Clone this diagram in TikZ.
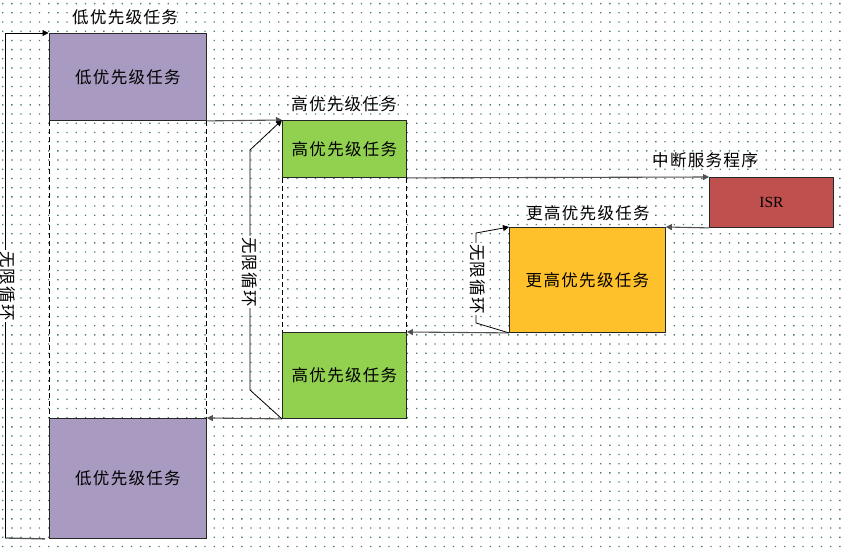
\documentclass[tikz,border=0pt]{standalone}
\usepackage{fontspec}
\setmainfont{Liberation Serif}
\newfontfamily\cjk[LetterSpace=8]{Noto Sans CJK SC}
\usetikzlibrary{arrows.meta}
\definecolor{dotc}{HTML}{4A7A6A}
\definecolor{lowc}{HTML}{A89AC0}
\definecolor{highc}{HTML}{92D050}
\definecolor{isrc}{HTML}{C0504D}
\definecolor{hhc}{HTML}{FFC12B}
\definecolor{linec}{HTML}{505050}
\tikzset{
  task/.style={draw=black!85, line width=0.9pt, anchor=north west, inner sep=0pt,
    font=\cjk\fontsize{16.5}{19}\selectfont},
  lbl/.style={font=\cjk\fontsize{16.5}{19}\selectfont, inner sep=1pt},
  looptxt/.style={font=\cjk\fontsize{16.5}{19}\selectfont, rotate=-90, fill=white, inner sep=1pt},
  arr/.style={-{Triangle[length=6pt,width=6pt]}, line width=1.1pt, draw=linec},
  loopl/.style={line width=0.8pt, draw=black},
  dashln/.style={draw=black, dash pattern=on 5pt off 3pt, line width=1pt},
}
\begin{document}
\begin{tikzpicture}[x=1pt,y=-1pt]
\useasboundingbox (0,0) rectangle (843,551);
\fill[white] (0,0) rectangle (843,551);
\fill[dotc] \foreach \i in {0,...,91} { \foreach \j in {0,...,59} { (2+9.2*\i,3+9.2*\j) rectangle ++(1.3,1.3) } };

% boxes
\node[task, fill=lowc, minimum width=157pt, minimum height=87pt] (L1) at (49,33) {低优先级任务};
\node[task, fill=highc, minimum width=124pt, minimum height=57pt] (H1) at (282,120) {高优先级任务};
\node[task, fill=isrc, minimum width=124pt, minimum height=50pt, font=\fontsize{15.5}{18}\selectfont] (ISR) at (709,177) {ISR};
\node[task, fill=hhc, minimum width=156pt, minimum height=105pt] (X) at (509,227) {更高优先级任务};
\node[task, fill=highc, minimum width=124pt, minimum height=86pt] (H2) at (282,332) {高优先级任务};
\node[task, fill=lowc, minimum width=157pt, minimum height=120pt] (L2) at (49,418) {低优先级任务};

% labels
\node[lbl] (tL) at (125,17) {低优先级任务};
\node[lbl] (tH) at (344,104) {高优先级任务};
\node[lbl] (tI) at (705,160) {中断服务程序};
\node[lbl] (tX) at (588,213) {更高优先级任务};

% dashed
\draw[dashln] (L1.south west) -- (L2.north west);
\draw[dashln] (L1.south east) -- (L2.north east);
\draw[dashln] (H1.south west) -- (H2.north west);
\draw[dashln] (H1.south east) -- (H2.north east);

% flow arrows
\draw[arr] (L1.south east) -- (H1.north west);
\draw[arr] (H1.south east) -- (ISR.north west);
\draw[arr] (ISR.south west) -- (X.north east);
\draw[arr] (X.south west) -- (H2.north east);
\draw[arr] (H2.south west) -- (L2.north east);

% loop 1
\coordinate (a1) at (5,538);
\coordinate (a2) at (5,33);
\draw[line width=1.3pt, draw=linec] ([xshift=-4pt]L2.south west) -- (a1);
\draw[loopl, -{Triangle[length=6pt,width=6pt]}] (a1) -- (a2) -- ([xshift=-0.5pt]L1.north west);
\node[looptxt] (t1) at (8,286) {无限循环};

% loop 2
\coordinate (b1) at (250,390);
\coordinate (b2) at (250,150);
\draw[loopl, -{Triangle[length=6pt,width=6pt]}] (H2.south west) -- (b1) -- (b2) -- (H1.north west);
\node[looptxt] (t2) at (250,272) {无限循环};

% loop 3
\coordinate (c1) at (476,323);
\coordinate (c2) at (476,233);
\draw[loopl, -{Triangle[length=6pt,width=6pt]}] (X.south west) -- (c1) -- (c2) -- (X.north west);
\node[looptxt] (t3) at (478,279) {无限循环};
\end{tikzpicture}
\end{document}
